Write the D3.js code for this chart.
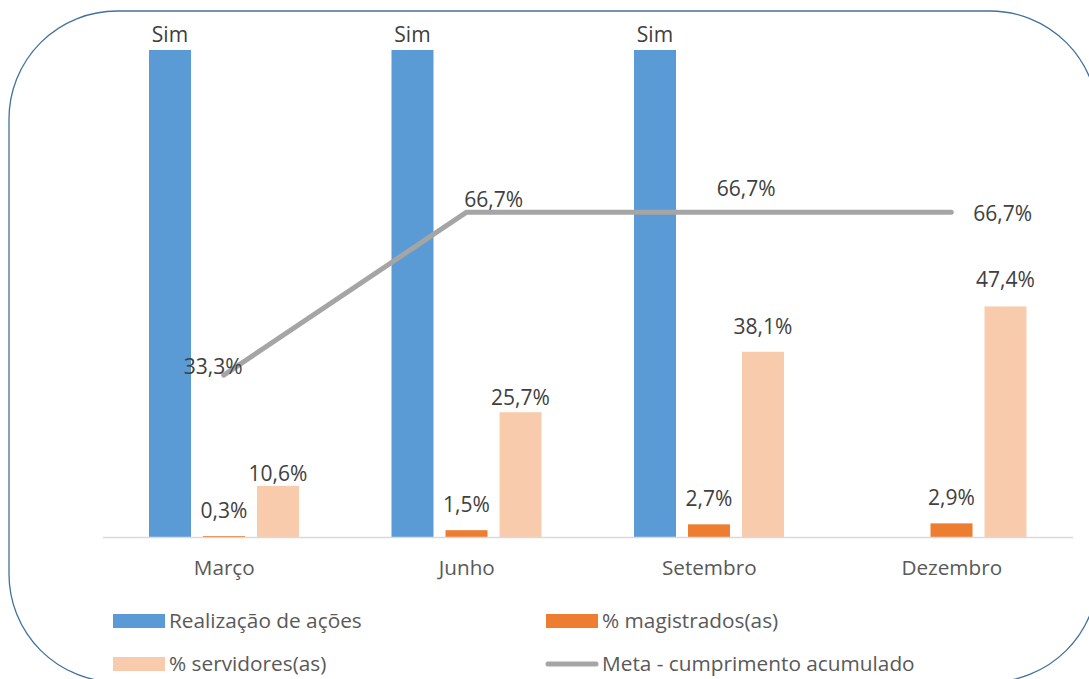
<!DOCTYPE html>
<html>
<head>
<meta charset="utf-8">
<script src="https://cdn.jsdelivr.net/npm/d3@7"></script>
<style>
  html, body { margin: 0; padding: 0; background: #fff; overflow: hidden; }
  svg { display: block; font-family: "Open Sans", Lato, sans-serif; }
</style>
</head>
<body>
<div id="container"></div>
<script>
// chart data
const months = ["Março", "Junho", "Setembro", "Dezembro"];
const realizacao = [1, 1, 1, null];          // "Sim" = action done
const realizacaoLabels = ["Sim", "Sim", "Sim", ""];
const magistrados = [0.003, 0.015, 0.027, 0.029];
const servidores = [0.106, 0.257, 0.381, 0.474];
const meta = [0.333, 0.667, 0.667, 0.667];

const seriesNames = ["Realização de ações", "% magistrados(as)", "% servidores(as)", "Meta - cumprimento acumulado"];
const colors = ["#5B9BD5", "#ED7D31", "#F8CBAD", "#A5A5A5"];

const width = 1089, height = 679;

// label placement tweaks, as moved by hand in the original
const metaLabelOffset = [[-40, -1], [-2, -5], [8, -16], [22, 8.5]];
const servLabelGap = [5, 7, 18, 19];

const fmt = v => d3.format(".1%")(v).replace(".", ",");

const svg = d3.select("#container").append("svg")
    .attr("width", width)
    .attr("height", height);

// rounded frame (runs past the window on the right / bottom)
svg.append("rect")
    .attr("x", 9).attr("y", 11)
    .attr("width", 1089).attr("height", 671)
    .attr("rx", 108).attr("ry", 108)
    .attr("fill", "none")
    .attr("stroke", "#41719C")
    .attr("stroke-width", 1.3);

const x0 = d3.scaleBand().domain(months).range([103, 1073]);
const x1 = d3.scaleBand().domain([0, 1, 2]).range([46, 196]).paddingInner(12 / 54);
const y = d3.scaleLinear().domain([0, 1]).range([537.5, 50]);

const groups = svg.append("g")
    .selectAll("g")
    .data(months)
    .enter().append("g")
    .attr("transform", d => `translate(${x0(d)},0)`);

const barSeries = [realizacao, magistrados, servidores];

barSeries.forEach((vals, s) => {
    groups.filter((d, i) => vals[i] != null)
        .append("rect")
        .attr("x", x1(s))
        .attr("width", x1.bandwidth())
        .attr("y", d => y(vals[months.indexOf(d)]))
        .attr("height", d => y(0) - y(vals[months.indexOf(d)]))
        .attr("fill", colors[s]);
});

// axis line + category labels
svg.append("line")
    .attr("x1", 103).attr("x2", 1073)
    .attr("y1", y(0)).attr("y2", y(0))
    .attr("stroke", "#D9D9D9")
    .attr("stroke-width", 1.5);

const xAxis = svg.append("g")
    .attr("transform", `translate(0,${y(0)})`)
    .call(d3.axisBottom(x0).tickSize(0).tickPadding(0));
xAxis.select(".domain").remove();
xAxis.selectAll("text")
    .attr("dy", 0)
    .attr("y", 37.5)
    .attr("fill", "#595959")
    .style("font-size", "20.7px")
    .style("font-family", "Open Sans");

// meta line
const line = d3.line()
    .x((d, i) => x0(months[i]) + x0.bandwidth() / 2 - 0.5)
    .y(d => y(d));

svg.append("path")
    .datum(meta)
    .attr("d", line)
    .attr("fill", "none")
    .attr("stroke", colors[3])
    .attr("stroke-width", 5)
    .attr("stroke-linecap", "round")
    .attr("stroke-linejoin", "round");

// data labels
const labels = svg.append("g")
    .attr("fill", "#404040")
    .style("font-size", "21px");

labels.selectAll("text.sim")
    .data(months)
    .enter().append("text")
    .attr("class", "sim")
    .attr("text-anchor", "middle")
    .attr("x", d => x0(d) + x1(0) + x1.bandwidth() / 2)
    .attr("y", (d, i) => y(realizacao[i] || 0) - 8)
    .text((d, i) => realizacaoLabels[i]);

labels.selectAll("text.mag")
    .data(months)
    .enter().append("text")
    .attr("class", "mag")
    .attr("text-anchor", "middle")
    .attr("x", d => x0(d) + x1(1) + x1.bandwidth() / 2)
    .attr("y", (d, i) => y(magistrados[i]) - 18.5)
    .text((d, i) => fmt(magistrados[i]));

labels.selectAll("text.serv")
    .data(months)
    .enter().append("text")
    .attr("class", "serv")
    .attr("text-anchor", "middle")
    .attr("x", d => x0(d) + x1(2) + x1.bandwidth() / 2)
    .attr("y", (d, i) => y(servidores[i]) - servLabelGap[i])
    .text((d, i) => fmt(servidores[i]));

labels.selectAll("text.meta")
    .data(months)
    .enter().append("text")
    .attr("class", "meta")
    .attr("x", (d, i) => line.x()(meta[i], i) + metaLabelOffset[i][0])
    .attr("y", (d, i) => y(meta[i]) + metaLabelOffset[i][1])
    .text((d, i) => fmt(meta[i]));

// legend
const legendPos = [[113, 614], [546, 614], [113, 657], [546, 657]];
const legend = svg.append("g")
    .selectAll("g")
    .data(seriesNames)
    .enter().append("g")
    .attr("transform", (d, i) => `translate(${legendPos[i][0]},${legendPos[i][1]})`);

legend.each(function (d, i) {
    const el = d3.select(this);
    if (i === 3) {
        el.append("line")
            .attr("x1", 2).attr("x2", 50)
            .attr("y1", 7).attr("y2", 7)
            .attr("stroke", colors[3])
            .attr("stroke-width", 5)
            .attr("stroke-linecap", "round");
    } else {
        el.append("rect")
            .attr("width", 52).attr("height", 14)
            .attr("fill", colors[i]);
    }
});

legend.append("text")
    .attr("x", 56)
    .attr("y", 13.5)
    .attr("fill", "#595959")
    .style("font-size", "20.8px")
    .text(d => d);
</script>
</body>
</html>
